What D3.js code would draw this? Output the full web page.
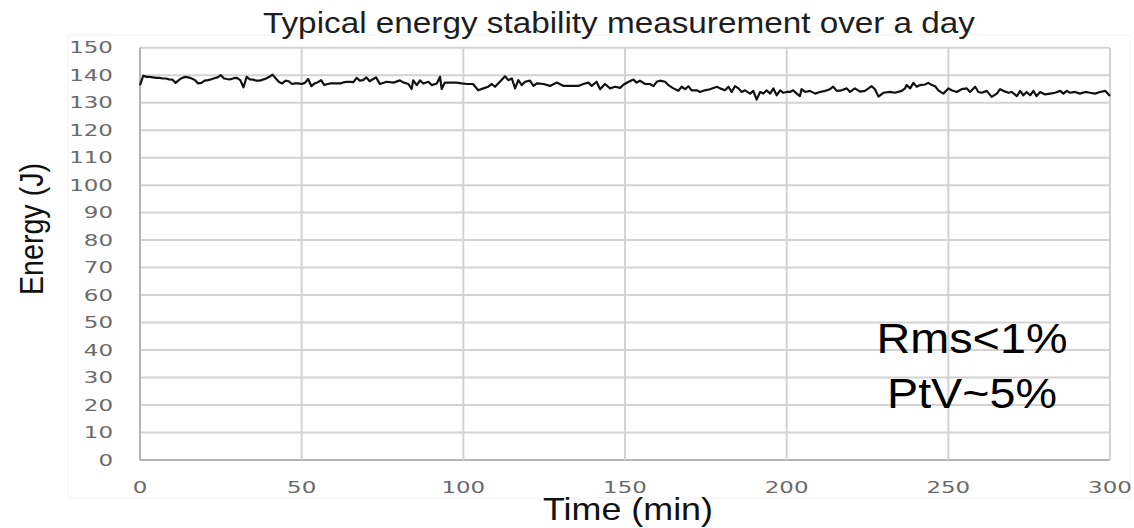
<!DOCTYPE html>
<html>
<head>
<meta charset="utf-8">
<script src="https://cdn.jsdelivr.net/npm/d3@7"></script>
<style>
html,body{margin:0;padding:0;background:#fff;}
svg{display:block;}
</style>
</head>
<body>
<svg id="chart" width="1134" height="528"></svg>
<script>
// ---- data ----
const timeMin = [0,1,2,3,4,5,6,7,8,9,10,11,12,13,14,15,16,17,18,19,20,21,22,23,24,25,26,27,28,29,30,31,32,33,34,35,36,37,38,39,40,41,42,43,44,45,46,47,48,49,50,51,52,53,54,55,56,57,58,59,60,61,62,63,64,65,66,67,68,69,70,71,72,73,
74.2,76.3,78.4,80.4,81.4,83,84,84.5,85.6,86.6,87.6,89.2,90.2,91.8,92.8,93.3,94.3,95.9,97.9,99.5,101,103,104.6,106.2,107.7,108.8,109.8,111.3,112.9,113.9,115,116,117,118.1,119.1,120.6,121.7,122.7,124.8,126.8,128.9,131,133,135.6,137.1,138.7,139.7,141.2,142.3,143.8,145.4,146.9,
148.5,149.5,151,152.6,153.6,154.6,156.2,157.7,158.8,159.8,160.8,162.4,163.4,165,166.5,167.5,168.6,169.6,170.6,172.2,173.2,174.7,176.3,178.4,179.4,180.9,182,183,184,185.1,186.1,187.1,188.7,189.7,190.7,191.8,192.8,193.8,194.9,195.9,196.9,198,199,200,201,202,203.1,204.1,204.6,205.7,207.2,208.8,210.3,211.9,213.4,214.4,215.5,217,218.6,219.6,221.1,
222.7,224.2,226.3,227.3,228.4,229.9,232,233.5,235.6,236.6,237.1,238.2,239.2,240.2,241.3,242.8,243.8,244.9,245.9,246.9,248.5,250,251,252.6,254.1,255.7,256.7,258.3,259.3,260.3,261.9,263.4,265,266,267,268.6,269.6,271.2,272.2,273.2,274.2,275.3,276.3,277.3,278.4,279.9,281.5,283,284.6,285.6,286.6,287.7,289.2,290.7,292.3,293.8,295.4,296.9,298.5,300];
const energyJ = [136.4,139.8,139.4,139.4,139.2,139.0,139.0,138.8,138.8,138.5,138.4,137.2,138.2,139.0,139.4,139.2,138.8,138.2,137.0,137.2,138.0,138.2,138.5,138.9,139.2,140.0,138.8,138.6,138.5,138.9,139.0,138.2,135.6,139.4,138.5,138.4,138.0,138.0,138.4,138.8,139.4,140.2,138.8,137.5,137.0,138.0,137.8,136.8,137.0,137.0,136.8,137.2,138.6,136.0,137.0,137.4,138.2,136.4,136.8,137.0,137.0,137.0,137.0,137.4,137.6,137.6,137.5,139.0,138.0,138.2,139.2,137.8,138.5,139.2,
136.8,137.6,137.3,138.1,137.4,136.8,135.0,138.1,136.4,138.1,137.0,137.6,136.4,137.0,139.4,135.0,137.3,137.3,137.3,137.0,136.8,136.8,134.5,135.2,135.8,136.8,135.8,137.6,139.6,138.2,138.8,135.2,138.2,136.4,137.6,138.0,136.1,137.0,136.8,136.1,137.3,136.1,136.1,136.1,136.8,137.3,136.1,137.6,134.9,136.8,135.2,135.8,
135.4,136.5,137.5,138.4,137.3,138.0,136.8,136.8,136.0,137.6,138.0,137.6,136.4,135.2,134.3,135.8,134.9,136.0,134.5,134.5,133.9,134.5,134.9,135.8,135.2,134.5,135.8,133.9,136.0,135.2,133.9,134.5,133.3,134.3,131.1,133.9,133.3,134.5,133.3,135.2,132.7,134.5,133.6,133.9,133.9,134.5,133.3,132.4,134.9,133.9,134.3,133.3,133.9,134.3,134.9,135.8,134.3,134.5,135.2,133.9,135.2,
134.0,134.3,136.0,134.9,132.2,133.6,133.9,133.6,134.3,135.2,136.4,135.2,137.2,135.8,136.4,136.6,137.2,136.4,136.0,134.5,133.3,135.2,134.5,133.9,134.9,135.2,133.9,135.8,133.9,133.6,134.3,132.1,133.3,134.9,134.3,133.6,133.9,132.4,134.3,132.7,133.9,132.7,134.3,132.4,133.9,133.0,133.3,133.6,134.3,133.3,134.3,133.6,133.9,133.3,133.9,133.6,133.3,133.9,134.3,132.4];
const xTicks = [0,50,100,150,200,250,300];
const yTicks = [0,10,20,30,40,50,60,70,80,90,100,110,120,130,140,150];
const titleText = "Typical energy stability measurement over a day";
const xTitle = "Time (min)";
const yTitle = "Energy (J)";
const notes = ["Rms<1%", "PtV~5%"];

// ---- drawing ----
const svg = d3.select("#chart");
const x = d3.scaleLinear().domain([0,300]).range([140,1110]);
const y = d3.scaleLinear().domain([0,150]).range([460,47.7]);

// faint chart-area frame
svg.append("rect").attr("x",68).attr("y",35).attr("width",1062).attr("height",463)
  .attr("fill","none").attr("stroke","#f3f3f3").attr("stroke-width",1);

const grid = svg.append("g");
grid.selectAll("line.h").data(yTicks).join("line")
  .attr("x1",x(0)).attr("x2",x(300)).attr("y1",d=>y(d)).attr("y2",d=>y(d))
  .attr("stroke",d=>d===0?"#b4b4b4":"#d3d3d3").attr("stroke-width",2);
grid.selectAll("line.v").data(xTicks).join("line")
  .attr("y1",y(0)).attr("y2",y(150)).attr("x1",d=>x(d)).attr("x2",d=>x(d))
  .attr("stroke",d=>d===0?"#b4b4b4":"#d3d3d3").attr("stroke-width",2);

// y tick labels
const tickFont = "'DejaVu Sans', Verdana, sans-serif";
svg.append("g").selectAll("text").data(yTicks).join("text")
  .attr("x",113).attr("y",d=>y(d)).attr("dy","0.36em")
  .attr("text-anchor","end")
  .attr("font-family",tickFont).attr("font-size",16).attr("fill","#6a6a6a")
  .attr("textLength",d=>String(d).length*14.6).attr("lengthAdjust","spacingAndGlyphs")
  .text(d=>d);

// x tick labels
svg.append("g").selectAll("text").data(xTicks).join("text")
  .attr("x",d=>x(d)).attr("y",493)
  .attr("text-anchor","middle")
  .attr("font-family",tickFont).attr("font-size",16).attr("fill","#6a6a6a")
  .attr("textLength",d=>String(d).length*14.6).attr("lengthAdjust","spacingAndGlyphs")
  .text(d=>d);

// data line
const line = d3.line().x((d,i)=>x(timeMin[i])).y(d=>y(d));
svg.append("path").datum(energyJ)
  .attr("d",line).attr("fill","none").attr("stroke","#111")
  .attr("stroke-width",2.2).attr("stroke-linejoin","round");

const sans = "'Liberation Sans', Arial, sans-serif";
// title
svg.append("text").attr("x",619).attr("y",33).attr("text-anchor","middle")
  .attr("font-family",sans).attr("font-size",29).attr("fill","#1e1e1e")
  .attr("textLength",712).attr("lengthAdjust","spacingAndGlyphs")
  .text(titleText);

// x title
svg.append("text").attr("x",628).attr("y",520).attr("text-anchor","middle")
  .attr("font-family",sans).attr("font-size",32).attr("fill","#111")
  .attr("textLength",170).attr("lengthAdjust","spacingAndGlyphs")
  .text(xTitle);

// y title
svg.append("text").attr("transform","translate(43,229) rotate(-90) scale(1,1.12)")
  .attr("text-anchor","middle")
  .attr("font-family",sans).attr("font-size",29).attr("fill","#111")
  .attr("textLength",132).attr("lengthAdjust","spacingAndGlyphs")
  .text(yTitle);

// annotations
svg.append("text").attr("x",972).attr("y",353).attr("text-anchor","middle")
  .attr("font-family",sans).attr("font-size",42).attr("fill","#000")
  .attr("textLength",191).attr("lengthAdjust","spacingAndGlyphs")
  .text(notes[0]);
svg.append("text").attr("x",972).attr("y",408).attr("text-anchor","middle")
  .attr("font-family",sans).attr("font-size",42).attr("fill","#000")
  .attr("textLength",170).attr("lengthAdjust","spacingAndGlyphs")
  .text(notes[1]);
</script>
</body>
</html>
